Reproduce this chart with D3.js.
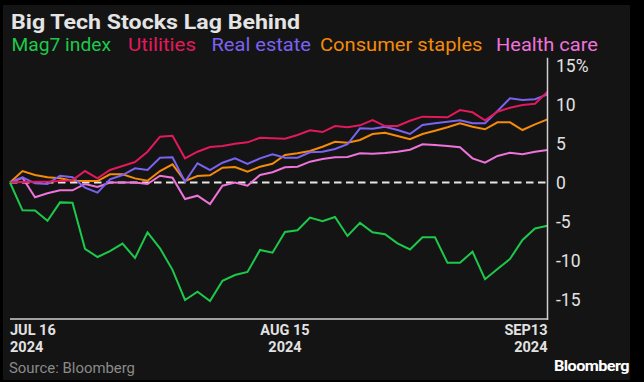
<!DOCTYPE html>
<html>
<head>
<meta charset="utf-8">
<script src="https://cdn.jsdelivr.net/npm/d3@7"></script>
<style>
  html, body { margin: 0; padding: 0; background: #000; }
  svg { display: block; }
  text { font-family: Roboto, "Noto Sans", sans-serif; }
</style>
</head>
<body>
<svg id="chart" width="644" height="382"></svg>
<script>
// ---------- data ----------
const dates = [
  "2024-07-16","2024-07-17","2024-07-18","2024-07-19","2024-07-22","2024-07-23","2024-07-24","2024-07-25","2024-07-26",
  "2024-07-29","2024-07-30","2024-07-31","2024-08-01","2024-08-02","2024-08-05","2024-08-06","2024-08-07","2024-08-08",
  "2024-08-09","2024-08-12","2024-08-13","2024-08-14","2024-08-15","2024-08-16","2024-08-19","2024-08-20","2024-08-21",
  "2024-08-22","2024-08-23","2024-08-26","2024-08-27","2024-08-28","2024-08-29","2024-08-30","2024-09-02","2024-09-03",
  "2024-09-04","2024-09-05","2024-09-06","2024-09-09","2024-09-10","2024-09-11","2024-09-12","2024-09-13"
];
const mag7 = [0,-3.57,-3.6,-4.9,-2.55,-2.6,-8.5,-9.55,-8.8,-7.84,-9.68,-6.39,-8.44,-11.2,-15.06,-14.0,-15.2,-12.6,-11.86,-11.47,-8.65,-9.0,-6.35,-6.13,-4.5,-4.95,-4.42,-6.86,-5.17,-6.37,-6.63,-7.8,-8.58,-7.03,-7.03,-10.3,-10.3,-8.87,-12.4,-11.1,-9.8,-7.37,-5.9,-5.55];
const utilities = [0,0.05,0.1,0.1,0.2,0.3,1.47,0.54,1.6,2.12,2.63,3.95,5.87,6.0,3.1,3.95,4.55,4.68,4.97,5.15,5.74,5.67,5.62,6.09,6.69,6.47,7.24,7.08,7.33,8.01,7.24,7.24,7.92,8.44,8.4,8.36,9.29,9.0,7.97,9.08,9.59,9.94,10.1,11.64];
const realEstate = [0,0.67,-0.1,-0.2,0.87,0.67,-0.67,-1.3,0.41,0.96,1.82,1.6,3.18,3.23,0.1,2.46,1.6,2.54,3.1,2.37,3.1,3.62,3.18,3.18,3.87,3.95,4.29,4.9,6.95,6.9,7.15,6.73,6.22,7.37,7.59,7.79,7.97,7.59,7.59,9.17,10.79,10.58,10.67,11.3];
const staples = [0,1.47,0.96,0.66,0.53,0.24,0.19,0.19,1.05,1.05,0.53,0.23,1.47,2.33,0.19,0.83,0.92,1.9,1.99,1.38,2.03,2.41,3.53,3.74,4.04,4.59,5.23,5.1,5.45,6.22,6.38,5.96,5.54,6.22,6.64,7.08,7.59,7.15,6.82,7.72,7.72,6.73,7.46,8.1];
const healthCare = [0,0.6,-1.9,-1.38,-1.0,-1.0,-0.19,-0.58,0,0,0,-0.19,0.87,0.62,-2.12,-1.69,-2.76,-0.41,0,-0.41,0.96,1.31,1.95,2.03,2.67,3.01,3.23,3.27,3.74,3.69,3.78,3.95,4.2,4.9,4.81,4.68,4.51,3.1,2.54,3.4,3.82,3.62,3.95,4.17];

const seriesNames  = ["Mag7 index","Utilities","Real estate","Consumer staples","Health care"];
const seriesColors = ["#1dc94b","#e3195c","#7b63f2","#f58b08","#ee73da"];
const seriesValues = [mag7, utilities, realEstate, staples, healthCare];

const yTicks = [15,10,5,0,-5,-10,-15];
const xTickDates = ["2024-07-16","2024-08-15","2024-09-13"];
const xTickLine1 = ["JUL 16","AUG 15","SEP13"];
const xTickLine2 = ["2024","2024","2024"];

const title = "Big Tech Stocks Lag Behind";
const source = "Source: Bloomberg";

// ---------- layout ----------
const svg = d3.select("#chart");
svg.append("rect").attr("x",0).attr("y",0).attr("width",644).attr("height",382).attr("fill","#000");
svg.append("rect").attr("x",3).attr("y",5).attr("width",627).attr("height",375).attr("fill","#141414");

const plotLeft = 10, plotRight = 547.5, plotTop = 57.7, plotBottom = 319;
const x = d3.scalePoint().domain(dates).range([plotLeft, plotRight]);
const y = d3.scaleLinear().domain([-17.5, 16]).range([plotBottom, plotTop]);

function fit(sel, w) { sel.attr("textLength", w).attr("lengthAdjust", "spacingAndGlyphs"); return sel; }

// title
fit(svg.append("text").attr("x", 11).attr("y", 28.5).attr("fill", "#e4e4e4")
  .attr("font-size", 20.5).attr("font-weight", 700).text(title), 289);

// legend
const legendX = [11.5, 128, 211.5, 320, 496];
const legendW = [99.5, 68, 99.5, 162.5, 102];
seriesNames.forEach((n, i) => {
  fit(svg.append("text").attr("x", legendX[i]).attr("y", 51).attr("fill", seriesColors[i])
    .attr("font-size", 19).text(n), legendW[i]);
});

// zero line
svg.append("line")
  .attr("x1", plotLeft).attr("x2", plotRight)
  .attr("y1", y(0)).attr("y2", y(0))
  .attr("stroke", "#e6e6e6").attr("stroke-width", 2)
  .attr("stroke-dasharray", "7.5,4.5");

// series lines
const line = d3.line().x((d, i) => x(dates[i])).y(d => y(d));
const order = [4, 3, 2, 1, 0];
order.forEach(i => {
  svg.append("path").datum(seriesValues[i])
    .attr("d", line)
    .attr("fill", "none")
    .attr("stroke", seriesColors[i])
    .attr("stroke-width", 2)
    .attr("stroke-linejoin", "miter");
});

// axes lines
const axisColor = "#cfcfcf";
svg.append("line").attr("x1", plotRight).attr("x2", plotRight).attr("y1", plotTop).attr("y2", plotBottom + 0.75)
  .attr("stroke", axisColor).attr("stroke-width", 1.5);
svg.append("line").attr("x1", plotLeft).attr("x2", plotRight + 0.75).attr("y1", plotBottom).attr("y2", plotBottom)
  .attr("stroke", axisColor).attr("stroke-width", 1.5);

// y tick labels (right axis)
const yAxis = d3.axisRight(y).tickValues(yTicks).tickSize(0).tickPadding(0)
  .tickFormat(d => d === 15 ? "15%" : String(d));
const gy = svg.append("g").attr("transform", `translate(556,0)`).call(yAxis);
gy.select(".domain").remove();
gy.selectAll("text").attr("fill", "#e2e2e2").attr("font-size", 17.5)
  .attr("font-family", "Roboto, sans-serif").attr("dy", "0.36em")
  .text(d => d === 15 ? "15%" : (d < 0 ? "-" + Math.abs(d) : String(d)));

// x tick labels (two lines)
const anchors = ["start", "middle", "end"];
xTickDates.forEach((d, i) => {
  const xp = i === 0 ? plotLeft : (i === 2 ? plotRight : x(d));
  svg.append("text").attr("x", xp).attr("y", 335).attr("text-anchor", anchors[i])
    .attr("fill", "#e2e2e2").attr("font-size", 14.5).attr("font-weight", 700).text(xTickLine1[i]);
  svg.append("text").attr("x", xp).attr("y", 352).attr("text-anchor", anchors[i])
    .attr("fill", "#e2e2e2").attr("font-size", 14.5).attr("font-weight", 700).text(xTickLine2[i]);
});

// footer
fit(svg.append("text").attr("x", 9).attr("y", 373).attr("fill", "#8a8a8a")
  .attr("font-size", 15).text(source), 126);
fit(svg.append("text").attr("x", 554).attr("y", 370.5).attr("fill", "#ffffff")
  .attr("font-size", 14).attr("font-weight", 700).attr("letter-spacing", -0.5).text("Bloomberg"), 75);
</script>
</body>
</html>
